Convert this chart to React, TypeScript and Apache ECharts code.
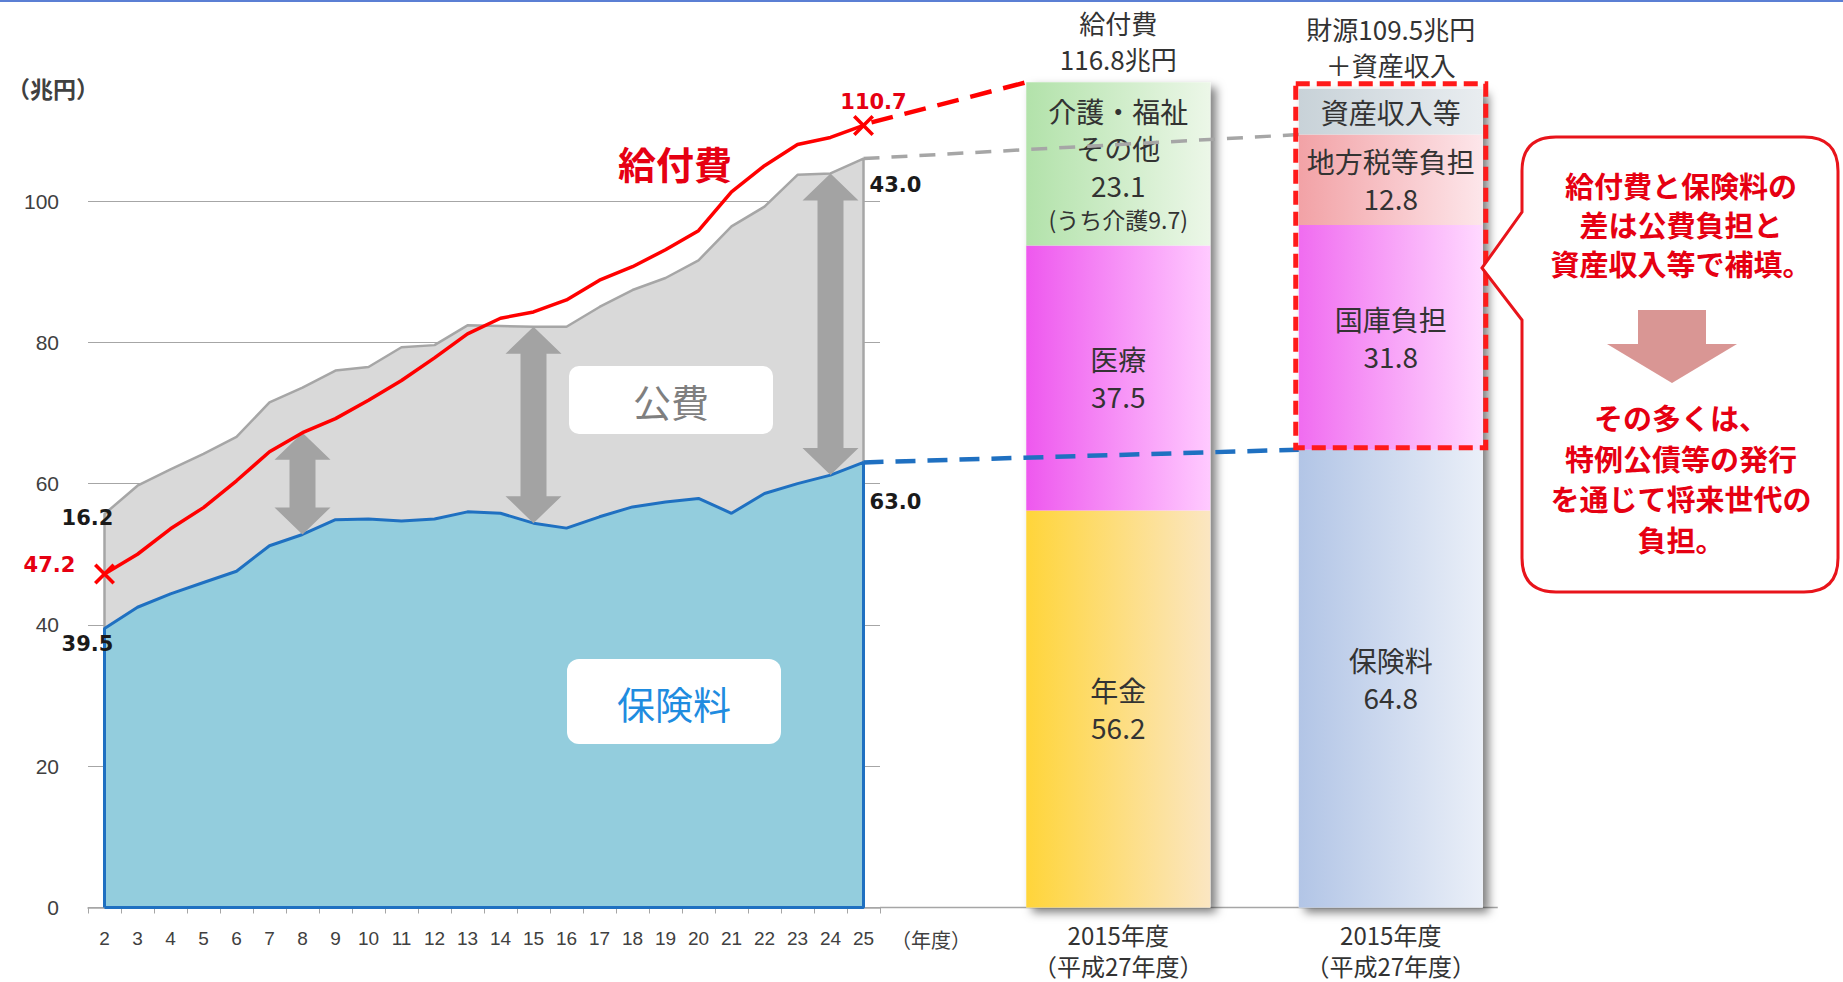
import React, { useEffect, useRef } from "react";
import * as echarts from "echarts";

// ---------------- data ----------------
const YEARS = ["2", "3", "4", "5", "6", "7", "8", "9", "10", "11", "12", "13", "14", "15", "16", "17", "18", "19", "20", "21", "22", "23", "24", "25"];
const YEAR_VALUES = [2, 3, 4, 5, 6, 7, 8, 9, 10, 11, 12, 13, 14, 15, 16, 17, 18, 19, 20, 21, 22, 23, 24, 25];
// 給付費
const BENEFIT = [47.2, 50.0, 53.6, 56.6, 60.4, 64.5, 67.2, 69.2, 71.8, 74.6, 77.8, 81.2, 83.4, 84.3, 86.0, 88.8, 90.7, 93.1, 95.8, 101.3, 105.0, 108.0, 109.0, 110.7];
// 保険料
const PREMIUM = [39.5, 42.5, 44.4, 46.0, 47.6, 51.2, 52.8, 54.9, 55.0, 54.7, 55.0, 56.0, 55.8, 54.4, 53.7, 55.3, 56.7, 57.4, 57.9, 55.8, 58.6, 60.0, 61.2, 63.0];
// 公費
const PUBLIC_FUNDS = [16.2, 17.2, 17.6, 18.2, 19.0, 20.3, 20.8, 21.1, 21.5, 24.6, 24.6, 26.4, 26.5, 27.8, 28.5, 29.7, 30.7, 31.7, 33.7, 40.6, 40.6, 43.7, 42.7, 43.0];
const ARROW_YEARS = [8, 15, 24];

const BAR_CATEGORIES = ["給付費", "財源"];
const BAR_AXIS_LABEL = "2015年度\n（平成27年度）";
const BENEFIT_PARTS = ["年金", "医療", "介護・福祉\nその他"];
const BENEFIT_PART_VALUES = [56.2, 37.5, 23.1];
const CARE_SHARE = 9.7;
const SOURCE_PARTS = ["保険料", "国庫負担", "地方税等負担", "資産収入等"];
const SOURCE_PART_VALUES = [64.8, 31.8, 12.8, 6.5];
const SOURCE_TOTAL_LABEL = 109.5;

const Y_MIN = 0;
const Y_MAX = 100;
const Y_STEP = 20;

// ---------------- style ----------------
const JP = '"Noto Sans CJK JP", "Noto Sans", sans-serif';
const NUM = '"DejaVu Sans", sans-serif';
const RED = "#ff0000";
const TEXT_RED = "#e60012";

const CW = 316;
const CH = 455;
const CR = 34;
const calloutPath =
  `M${CR},0 L${CW - CR},0 Q${CW},0 ${CW},${CR} L${CW},${CH - CR} Q${CW},${CH} ${CW - CR},${CH} ` +
  `L${CR},${CH} Q0,${CH} 0,${CH - CR} L0,183 L-40,131 L0,75 L0,${CR} Q0,0 ${CR},0 Z`;
echarts.graphic.registerShape("callout", echarts.graphic.extendPath(calloutPath, {}));

const fmt = (v: number) => v.toFixed(1);
const sum = (a: number[]) => a.reduce((s, v) => s + v, 0);
const hgrad = (a: string, b: string) =>
  new echarts.graphic.LinearGradient(0, 0, 1, 0, [
    { offset: 0, color: a },
    { offset: 1, color: b },
  ]);

const TOTALS = PREMIUM.map((p, i) => +(p + PUBLIC_FUNDS[i]).toFixed(1));
const LAST = YEAR_VALUES.length - 1;

function buildOption(): any {
  const grayData = [[YEAR_VALUES[0], 0], ...TOTALS.map((v, i) => [YEAR_VALUES[i], v]), [YEAR_VALUES[LAST], 0]];
  const blueData = [
    [YEAR_VALUES[0], 0],
    ...PREMIUM.map((v, i) => [YEAR_VALUES[i], v]),
    [YEAR_VALUES[LAST], 0],
    [YEAR_VALUES[0], 0],
  ];
  const xSym = "path://M0,1.2 L1.2,0 L5,3.8 L8.8,0 L10,1.2 L6.2,5 L10,8.8 L8.8,10 L5,6.2 L1.2,10 L0,8.8 L3.8,5 Z";
  const redData = BENEFIT.map((v, i) => ({
    value: [YEAR_VALUES[i], v],
    symbol: i === 0 || i === LAST ? xSym : "none",
  }));
  const arrowData = ARROW_YEARS.map((y) => {
    const i = YEAR_VALUES.indexOf(y);
    return [y, PREMIUM[i], Math.min(BENEFIT[i], TOTALS[i])];
  });

  const benefitColors = [
    ["#ffd53a", "#fbe6c2"],
    ["#ee58ee", "#ffcaff"],
    ["#b2e2aa", "#ecf7e8"],
  ];
  const sourceColors = [
    ["#b2c5e6", "#eaeff8"],
    ["#f06cf0", "#ffd9ff"],
    ["#f2a2a6", "#fde6ea"],
    ["#c8d2d8", "#e9edf0"],
  ];
  const barLabel = {
    show: true,
    position: "inside",
    color: "#333",
    fontFamily: JP,
    fontSize: 28,
    lineHeight: 37,
    rich: {
      n: { fontFamily: JP, fontSize: 28, lineHeight: 37, color: "#333" },
      s: { fontFamily: JP, fontSize: 23, lineHeight: 31, color: "#333" },
    },
  };
  const benefitSeries = BENEFIT_PARTS.map((name, k) => ({
    type: "bar",
    name,
    xAxisIndex: 2,
    yAxisIndex: 1,
    stack: "bars",
    barWidth: 184,
    barGap: "-100%",
    clip: false,
    z: 3,
    data: [BENEFIT_PART_VALUES[k], "-"],
    itemStyle: { color: hgrad(benefitColors[k][0], benefitColors[k][1]) },
    label: {
      ...barLabel,
      formatter: () =>
        k === 2
          ? `${name}\n{n|${fmt(BENEFIT_PART_VALUES[k])}}\n{s|(うち介護${fmt(CARE_SHARE)})}`
          : `${name}\n{n|${fmt(BENEFIT_PART_VALUES[k])}}`,
    },
  }));
  const sourceSeries = SOURCE_PARTS.map((name, k) => ({
    type: "bar",
    name,
    xAxisIndex: 2,
    yAxisIndex: 1,
    stack: "bars",
    barWidth: 184,
    barGap: "-100%",
    clip: false,
    z: 3,
    data: ["-", SOURCE_PART_VALUES[k]],
    itemStyle: { color: hgrad(sourceColors[k][0], sourceColors[k][1]) },
    label: {
      ...barLabel,
      formatter: () => (k === 3 ? name : `${name}\n{n|${fmt(SOURCE_PART_VALUES[k])}}`),
    },
  }));

  return {
    animation: false,
    backgroundColor: "#fff",
    grid: [
      { left: 88, top: 201, width: 792, height: 706.5 },
      { left: 982, top: 201, width: 545, height: 706.5 },
    ],
    xAxis: [
      {
        type: "category",
        gridIndex: 0,
        data: YEARS,
        boundaryGap: true,
        axisLine: { lineStyle: { color: "#a6a6a6", width: 1.5 } },
        axisTick: { show: true, length: 6, lineStyle: { color: "#a6a6a6" } },
        axisLabel: {
          color: "#404040",
          fontSize: 19,
          margin: 21,
          interval: 0,
          fontFamily: '"Liberation Sans Narrow", "Liberation Sans", sans-serif',
        },
        z: 1,
      },
      { type: "value", gridIndex: 0, min: 1.5, max: 25.5, show: false },
      {
        type: "category",
        gridIndex: 1,
        data: BAR_CATEGORIES,
        axisLine: { show: false },
        axisTick: { show: false },
        axisLabel: {
          formatter: () => BAR_AXIS_LABEL,
          color: "#333",
          fontFamily: JP,
          fontSize: 24,
          lineHeight: 31.5,
          margin: 11,
        },
      },
    ],
    yAxis: [
      {
        type: "value",
        gridIndex: 0,
        min: Y_MIN,
        max: Y_MAX,
        interval: Y_STEP,
        axisLine: { show: false },
        axisTick: { show: false },
        axisLabel: { color: "#404040", fontSize: 21, margin: 29, fontFamily: '"Liberation Sans", sans-serif' },
        splitLine: { lineStyle: { color: "#a6a6a6", width: 1.2 } },
      },
      { type: "value", gridIndex: 1, min: Y_MIN, max: Y_MAX, interval: Y_STEP, show: false, splitLine: { show: false } },
    ],
    series: [
      {
        type: "line",
        name: "総財源",
        xAxisIndex: 1,
        yAxisIndex: 0,
        data: grayData,
        symbol: "none",
        clip: false,
        z: 2,
        lineStyle: { color: "#a6a6a6", width: 2.5 },
        areaStyle: { color: "#d9d9d9", opacity: 1 },
      },
      {
        type: "line",
        name: "保険料",
        xAxisIndex: 1,
        yAxisIndex: 0,
        data: blueData,
        symbol: "none",
        clip: false,
        z: 3,
        lineStyle: { color: "#1f70c1", width: 3 },
        areaStyle: { color: "#93cddd", opacity: 1 },
      },
      {
        type: "custom",
        name: "差",
        xAxisIndex: 1,
        yAxisIndex: 0,
        z: 4,
        data: arrowData,
        renderItem: (params: any, api: any) => {
          const x = api.value(0);
          const p1 = api.coord([x, api.value(2)]);
          const p2 = api.coord([x, api.value(1)]);
          const cx = p1[0];
          const t = p1[1];
          const b = p2[1];
          const sw = 13;
          const hw = 28;
          const hl = 27;
          return {
            type: "polygon",
            shape: {
              points: [
                [cx, t],
                [cx + hw, t + hl],
                [cx + sw, t + hl],
                [cx + sw, b - hl],
                [cx + hw, b - hl],
                [cx, b],
                [cx - hw, b - hl],
                [cx - sw, b - hl],
                [cx - sw, t + hl],
                [cx - hw, t + hl],
              ],
            },
            style: { fill: "#a3a3a3" },
          };
        },
      },
      {
        type: "line",
        name: "給付費",
        xAxisIndex: 1,
        yAxisIndex: 0,
        data: redData,
        showSymbol: true,
        showAllSymbol: true,
        symbolSize: 21,
        clip: false,
        z: 5,
        lineStyle: { color: RED, width: 3.5 },
        itemStyle: { color: RED },
      },
      {
        type: "bar",
        name: "合計",
        xAxisIndex: 2,
        yAxisIndex: 1,
        barWidth: 184,
        barGap: "-100%",
        clip: false,
        z: 1,
        data: [+sum(BENEFIT_PART_VALUES).toFixed(1), +sum(SOURCE_PART_VALUES).toFixed(1)],
        itemStyle: {
          color: "#ffffff",
          shadowBlur: 10,
          shadowColor: "rgba(0,0,0,0.5)",
          shadowOffsetX: 6,
          shadowOffsetY: 5,
        },
        label: {
          show: true,
          position: "top",
          distance: 6,
          color: "#333",
          fontFamily: JP,
          fontSize: 26,
          lineHeight: 36,
          formatter: (p: any) =>
            p.dataIndex === 0
              ? `給付費\n${fmt(sum(BENEFIT_PART_VALUES))}兆円`
              : `財源${fmt(SOURCE_TOTAL_LABEL)}兆円\n＋資産収入`,
        },
      },
      ...benefitSeries,
      ...sourceSeries,
    ],
  };
}

function buildGraphics(chart: any): any[] {
  const P = (x: number, y: number) => chart.convertToPixel({ seriesIndex: 0 }, [x, y]) as number[];
  const B = (i: number, y: number) => chart.convertToPixel({ seriesIndex: 4 }, [i, y]) as number[];
  const HALF_BAR = 92;
  const text = (x: number, y: number, t: string, o: any = {}) => ({
    type: "text",
    x,
    y,
    z: 20,
    style: {
      text: t,
      fill: o.fill || "#333",
      fontSize: o.fontSize || 20,
      fontWeight: o.fontWeight || "normal",
      fontFamily: o.fontFamily || JP,
      lineHeight: o.lineHeight,
      align: "center",
      verticalAlign: "middle",
    },
  });

  const y0 = YEAR_VALUES[0];
  const yl = YEAR_VALUES[LAST];
  const redFirst = P(y0, BENEFIT[0]);
  const redLast = P(yl, BENEFIT[LAST]);
  const grayFirst = P(y0, TOTALS[0]);
  const grayLast = P(yl, TOTALS[LAST]);
  const blueFirst = P(y0, PREMIUM[0]);
  const blueLast = P(yl, PREMIUM[LAST]);
  const axisEnd = P(25.5, 0);

  const benefitTop = B(0, sum(BENEFIT_PART_VALUES));
  const srcTax = B(1, SOURCE_PART_VALUES[0] + SOURCE_PART_VALUES[1] + SOURCE_PART_VALUES[2]);
  const srcPrem = B(1, SOURCE_PART_VALUES[0]);
  const srcTop = B(1, sum(SOURCE_PART_VALUES));

  const g: any[] = [];
  // top border
  g.push({ type: "rect", shape: { x: 0, y: 0, width: 1843, height: 2 }, style: { fill: "#5b7fd4" }, z: 20 });
  // base line extension
  g.push({
    type: "line",
    shape: { x1: axisEnd[0], y1: axisEnd[1], x2: srcPrem[0] + HALF_BAR + 15, y2: axisEnd[1] },
    style: { stroke: "#a6a6a6", lineWidth: 1.5 },
    z: 0,
  });
  // axis unit labels
  g.push(text(53, 88, "（兆円）", { fontSize: 23, fontWeight: "bold", fill: "#404040" }));
  g.push(text(931, 939, "（年度）", { fontSize: 20, fill: "#404040" }));

  // connectors
  g.push({
    type: "line",
    z: 10,
    shape: { x1: redLast[0] + 8, y1: redLast[1] - 3, x2: benefitTop[0] - HALF_BAR, y2: benefitTop[1] },
    style: { stroke: RED, lineWidth: 4.5, lineDash: [22, 12] },
  });
  g.push({
    type: "line",
    z: 10,
    shape: { x1: grayLast[0], y1: grayLast[1], x2: srcTax[0] - HALF_BAR, y2: srcTax[1] },
    style: { stroke: "#a6a6a6", lineWidth: 3.5, lineDash: [16, 12] },
  });
  g.push({
    type: "line",
    z: 10,
    shape: { x1: blueLast[0], y1: blueLast[1], x2: srcPrem[0] - HALF_BAR, y2: srcPrem[1] },
    style: { stroke: "#1f70c1", lineWidth: 4.5, lineDash: [20, 12] },
  });
  // dashed box round public share
  g.push({
    type: "rect",
    z: 11,
    shape: {
      x: srcTop[0] - HALF_BAR - 3,
      y: srcTop[1] - 5,
      width: HALF_BAR * 2 + 6,
      height: srcPrem[1] - srcTop[1] + 3,
    },
    style: { fill: "none", stroke: "#ff1a1a", lineWidth: 5, lineDash: [14, 7] },
  });

  // value labels
  const numStyle = { fontSize: 21, fontWeight: "bold", fontFamily: NUM };
  g.push(text(redFirst[0] - 55, redFirst[1] - 9, fmt(BENEFIT[0]), { ...numStyle, fill: TEXT_RED }));
  g.push(text(redLast[0] + 10, redLast[1] - 23, fmt(BENEFIT[LAST]), { ...numStyle, fill: TEXT_RED }));
  g.push(text(grayFirst[0] - 17, grayFirst[1] + 4, fmt(PUBLIC_FUNDS[0]), { ...numStyle, fill: "#1a1a1a" }));
  g.push(text(blueFirst[0] - 17, blueFirst[1] + 16, fmt(PREMIUM[0]), { ...numStyle, fill: "#1a1a1a" }));
  g.push(text(grayLast[0] + 32, grayLast[1] + 26, fmt(PUBLIC_FUNDS[LAST]), { ...numStyle, fill: "#1a1a1a" }));
  g.push(text(blueLast[0] + 32, blueLast[1] + 40, fmt(PREMIUM[LAST]), { ...numStyle, fill: "#1a1a1a" }));

  // series names
  g.push(text(675, 162, "給付費", { fontSize: 38, fontWeight: "bold", fill: TEXT_RED }));
  g.push({ type: "rect", z: 15, shape: { x: 569, y: 366, width: 204, height: 68, r: 10 }, style: { fill: "#fff" } });
  g.push(text(671, 400, "公費", { fontSize: 38, fill: "#7f7f7f" }));
  g.push({ type: "rect", z: 15, shape: { x: 567, y: 659, width: 214, height: 85, r: 12 }, style: { fill: "#fff" } });
  g.push(text(674, 702, "保険料", { fontSize: 38, fill: "#1f8ce0" }));

  // callout
  g.push({ type: "callout", x: 1522, y: 137, z: 12, style: { fill: "#fff", stroke: "#e8141b", lineWidth: 3 } });
  g.push(
    text(1681, 224, "給付費と保険料の\n差は公費負担と\n資産収入等で補填。", {
      fontSize: 29,
      fontWeight: "bold",
      fill: TEXT_RED,
      lineHeight: 39,
    })
  );
  const cx = 1672;
  g.push({
    type: "polygon",
    z: 13,
    shape: {
      points: [
        [cx - 34, 310],
        [cx + 34, 310],
        [cx + 34, 344],
        [cx + 65, 344],
        [cx, 383],
        [cx - 65, 344],
        [cx - 34, 344],
      ],
    },
    style: { fill: "#d99694" },
  });
  g.push(
    text(1681, 478, "その多くは、\n特例公債等の発行\nを通じて将来世代の\n負担。", {
      fontSize: 29,
      fontWeight: "bold",
      fill: TEXT_RED,
      lineHeight: 40.5,
    })
  );
  return g;
}

export default function App() {
  const ref = useRef<HTMLDivElement>(null);
  useEffect(() => {
    const el = ref.current;
    if (!el) return;
    const chart = echarts.init(el, null, { renderer: "svg" });
    chart.setOption(buildOption());
    chart.setOption({ graphic: buildGraphics(chart) });
    return () => chart.dispose();
  }, []);
  return (
    <div
      ref={ref}
      style={{ position: "fixed", left: 0, top: 0, width: 1843, height: 982, background: "#fff" }}
    />
  );
}
